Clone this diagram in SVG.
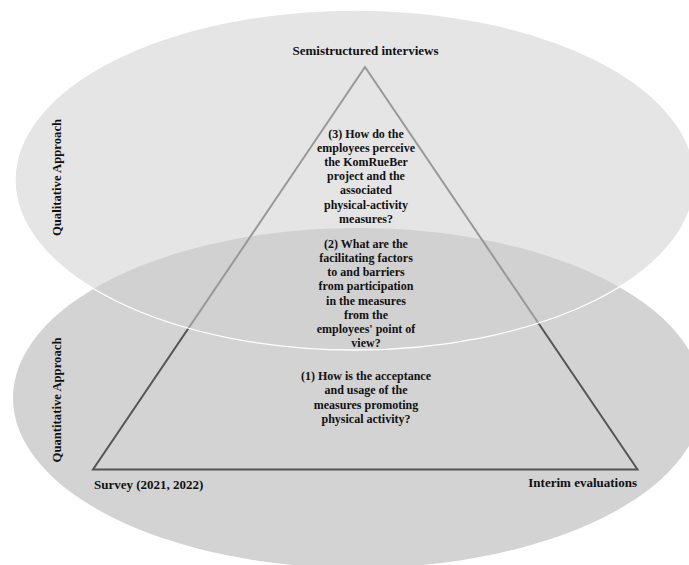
<svg xmlns="http://www.w3.org/2000/svg" width="689" height="565" viewBox="0 0 689 565">
<style>
.lbl{font-family:"Liberation Serif","Times New Roman",serif;font-weight:bold;font-size:13px;fill:#111}
.q{font-family:"Liberation Serif","Times New Roman",serif;font-weight:bold;font-size:12px;fill:#111;text-anchor:middle}
.side{font-family:"Liberation Serif","Times New Roman",serif;font-weight:bold;font-size:12.7px;fill:#111;text-anchor:middle}
</style>
<rect width="689" height="565" fill="#ffffff"/>
<g id="quantitative-ellipse">
<ellipse cx="358" cy="398" rx="345" ry="170" fill="#d3d3d3"/>
</g>
<g id="connectors">
<polygon points="365,67 93,469.5 637.5,469.5" fill="none" stroke="#555555" stroke-width="2" stroke-linejoin="miter"/>
</g>
<g id="qualitative-ellipse">
<ellipse cx="355" cy="180" rx="340" ry="170" fill="#d0d0d0" fill-opacity="0.55" stroke="#ffffff" stroke-width="1.3"/>
</g>
<g id="side-labels">
<text class="side" transform="translate(61,177.5) rotate(-90)">Qualitative Approach</text>
<text class="side" transform="translate(61,400) rotate(-90)">Quantitative Approach</text>
</g>
<g id="semistructured">
<text class="lbl" x="365.5" y="55" text-anchor="middle">Semistructured interviews</text>
</g>
<g id="survey">
<text class="lbl" x="94" y="489">Survey (2021, 2022)</text>
</g>
<g id="interim">
<text class="lbl" x="637" y="487" text-anchor="end">Interim evaluations</text>
</g>
<g id="question3">
<text class="q" x="366" y="137.5">(3) How do the</text>
<text class="q" x="366" y="151.7">employees perceive</text>
<text class="q" x="366" y="165.9">the KomRueBer</text>
<text class="q" x="366" y="180.1">project and the</text>
<text class="q" x="366" y="194.3">associated</text>
<text class="q" x="366" y="208.5">physical-activity</text>
<text class="q" x="366" y="222.7">measures?</text>
</g>
<g id="question2">
<text class="q" x="366" y="247.7">(2) What are the</text>
<text class="q" x="366" y="261.9">facilitating factors</text>
<text class="q" x="366" y="276.1">to and barriers</text>
<text class="q" x="366" y="290.3">from participation</text>
<text class="q" x="366" y="304.5">in the measures</text>
<text class="q" x="366" y="318.7">from the</text>
<text class="q" x="366" y="332.9">employees' point of</text>
<text class="q" x="366" y="347.1">view?</text>
</g>
<g id="question1">
<text class="q" x="366" y="380">(1) How is the acceptance</text>
<text class="q" x="366" y="394.4">and usage of the</text>
<text class="q" x="366" y="408.8">measures promoting</text>
<text class="q" x="366" y="423.2">physical activity?</text>
</g>
</svg>
